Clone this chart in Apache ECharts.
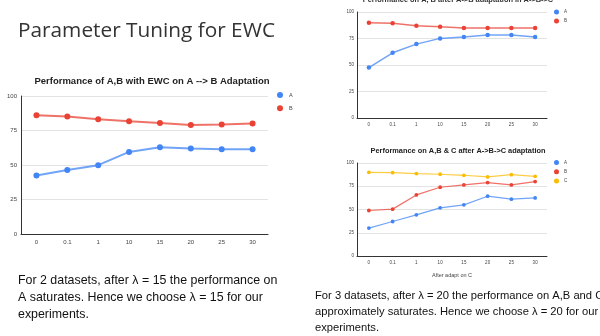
<!DOCTYPE html>
<html><head><meta charset="utf-8">
<script src="https://cdn.jsdelivr.net/npm/echarts@6/dist/echarts.min.js"></script>
<style>html,body{margin:0;padding:0;background:#fff}#c{width:600px;height:336px}</style>
</head><body><div id="c"></div>
<script>
const categories = ['0','0.1','1','10','15','20','25','30'];
const yTicks = [0,25,50,75,100];
// Chart 1: A -> B
const c1A = [42.4,46.3,49.9,59.5,62.9,61.9,61.4,61.4];
const c1B = [86.0,85.1,83.1,81.7,80.5,79.0,79.3,80.0];
// Chart 2: A, B after A->B in A->B->C
const c2A = [47.6,61.5,69.7,75.1,76.3,78.2,78.2,76.3];
const c2B = [89.9,89.3,87.1,86.1,84.9,84.9,84.9,84.9];
// Chart 3: A, B, C after A->B->C
const c3A = [30.0,37.1,44.3,51.8,55.0,64.3,61.1,62.5];
const c3B = [48.9,50.4,65.7,73.9,76.4,78.9,76.4,80.0];
const c3C = [90.0,89.6,88.6,87.9,86.8,85.0,87.5,85.7];

const slideTitle = 'Parameter Tuning for EWC';
const chartTitles = ['Performance of A,B with EWC on A --> B Adaptation',
  'Performance on A, B after A->B adaptation in A->B->C',
  'Performance on A,B & C after A->B->C adaptation'];
const xName3 = 'After adapt on C';
const leftText = ['For 2 datasets, after \u03bb = 15 the performance on','A saturates. Hence we choose \u03bb = 15 for our','experiments.'];
const rightText = ['For 3 datasets, after \u03bb = 20 the performance on A,B and C','approximately saturates. Hence we choose \u03bb = 20 for our','experiments.'];

const BLUE='#4285F4', RED='#EA4335', YEL='#FBBC04';
const chart = echarts.init(document.getElementById('c'));

function xAx(gi, fs, margin, name){
  return {type:'category', gridIndex:gi, data:categories, boundaryGap:true,
    axisLine:{lineStyle:{color:'#333',width:1}}, axisTick:{show:false},
    axisLabel:{fontSize:fs, color:'#444', margin:margin, fontFamily:'Liberation Sans'},
    name:name||'', nameLocation:'middle', nameGap:16,
    nameTextStyle:{fontSize:5.5,color:'#444',fontFamily:'Liberation Sans'}};
}
function yAx(gi, fs, margin){
  return {type:'value', gridIndex:gi, min:0, max:100, interval:25,
    axisLine:{show:true,lineStyle:{color:'#333',width:1}}, axisTick:{show:false},
    splitLine:{lineStyle:{color:'#e3e3e3',width:1}},
    axisLabel:{fontSize:fs,color:'#444',margin:margin,fontFamily:'Liberation Sans'}};
}
function ser(name, data, gi, color, sym, lw){
  return {type:'line', name:name, data:data, xAxisIndex:gi, yAxisIndex:gi,
    symbol:'circle', symbolSize:sym, showSymbol:true, color:color,
    itemStyle:{color:color}, lineStyle:{color:color,width:lw,opacity:0.75},
    label:{show:false}, emphasis:{disabled:true}, animation:false};
}
function txt(t,x,y,font,fill,align){
  return {type:'text', x:x, y:y, silent:true,
    style:{text:t, font:font, fill:fill, textAlign:align||'left', textVerticalAlign:'middle'}};
}

const graphics = [
  txt(slideTitle, 18, 31, '20.8px "Open Sans"', '#333'),
  txt(chartTitles[0], 152, 81, 'bold 9.5px "Liberation Sans"', '#222', 'center'),
  txt(chartTitles[1], 458, 0, 'bold 7.4px "Liberation Sans"', '#333', 'center'),
  txt(chartTitles[2], 458, 151, 'bold 7.4px "Liberation Sans"', '#222', 'center')
];
leftText.forEach((t,i)=>graphics.push(txt(t, 18, 281+17*i, '12.4px "Liberation Sans"', '#111')));
rightText.forEach((t,i)=>graphics.push(txt(t, 315, 296+16*i, '11.2px "Liberation Sans"', '#111')));

chart.setOption({
  animation:false,
  backgroundColor:'#fff',
  grid:[
    {left:21, top:96, width:247, height:138},
    {left:357, top:12, width:190, height:106},
    {left:357, top:163, width:190, height:93}
  ],
  xAxis:[xAx(0,6,5), xAx(1,4.5,4), xAx(2,4.5,4,xName3)],
  yAxis:[yAx(0,6,4), yAx(1,4.5,3), yAx(2,4.5,3)],
  legend:[
    {data:['A','B'], orient:'vertical', left:277, top:92, icon:'circle', itemWidth:6, itemHeight:6, itemGap:7.3,
     textStyle:{fontSize:5.5,color:'#444',padding:[0,0,0,1]}, selectedMode:false, padding:0},
    {data:['A','B'], orient:'vertical', left:554, top:9.5, icon:'circle', itemWidth:5, itemHeight:5, itemGap:4,
     textStyle:{fontSize:4.5,color:'#444'}, selectedMode:false, padding:0},
    {data:['A','B','C'], orient:'vertical', left:554, top:160, icon:'circle', itemWidth:5, itemHeight:5, itemGap:4.3,
     textStyle:{fontSize:4.5,color:'#444'}, selectedMode:false, padding:0}
  ],
  series:[
    ser('A', c1A, 0, BLUE, 6, 2),
    ser('B', c1B, 0, RED, 6, 2),
    ser('A', c2A, 1, BLUE, 4.5, 1.5),
    ser('B', c2B, 1, RED, 4.5, 1.5),
    ser('A', c3A, 2, BLUE, 3.8, 1.2),
    ser('B', c3B, 2, RED, 3.8, 1.2),
    ser('C', c3C, 2, YEL, 3.8, 1.2)
  ],
  graphic:graphics
});
</script></body></html>
